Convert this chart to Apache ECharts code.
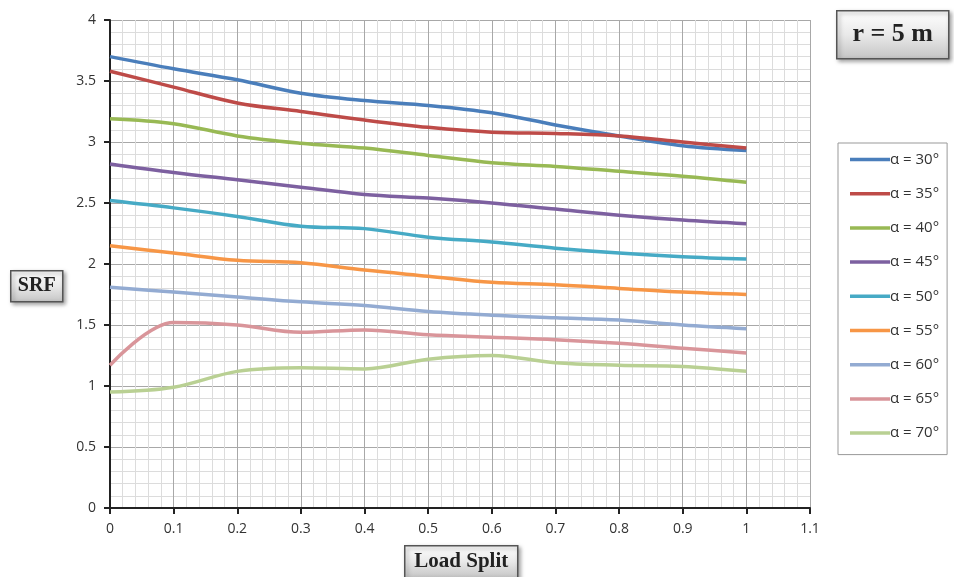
<!DOCTYPE html>
<html>
<head>
<meta charset="utf-8">
<script src="https://cdn.jsdelivr.net/npm/echarts@6/dist/echarts.min.js"></script>
<style>
  html, body { margin: 0; padding: 0; background: #fff; }
  #chart { width: 954px; height: 577px; }
</style>
</head>
<body>
<div id="chart"></div>
<script>
var loadSplit = [0, 0.1, 0.2, 0.3, 0.4, 0.5, 0.6, 0.7, 0.8, 0.9, 1.0];
var xTicks = [0, 0.1, 0.2, 0.3, 0.4, 0.5, 0.6, 0.7, 0.8, 0.9, 1, 1.1];
var yTicks = [0, 0.5, 1, 1.5, 2, 2.5, 3, 3.5, 4];

var names = ['α = 30°', 'α = 35°', 'α = 40°', 'α = 45°', 'α = 50°', 'α = 55°', 'α = 60°', 'α = 65°', 'α = 70°'];
var colors = ['#4a7ebb', '#be4b48', '#98b954', '#7d60a0', '#46aac5', '#f79646', '#93abd2', '#d9959a', '#b9d093'];

var srf30 = [3.70, 3.60, 3.51, 3.40, 3.34, 3.30, 3.24, 3.14, 3.05, 2.97, 2.93];
var srf35 = [3.58, 3.45, 3.32, 3.25, 3.18, 3.12, 3.08, 3.07, 3.05, 3.00, 2.95];
var srf40 = [3.19, 3.15, 3.05, 2.99, 2.95, 2.89, 2.83, 2.80, 2.76, 2.72, 2.67];
var srf45 = [2.82, 2.75, 2.69, 2.63, 2.57, 2.54, 2.50, 2.45, 2.40, 2.36, 2.33];
var srf50 = [2.52, 2.46, 2.39, 2.31, 2.29, 2.22, 2.18, 2.13, 2.09, 2.06, 2.04];
var srf55 = [2.15, 2.09, 2.03, 2.01, 1.95, 1.90, 1.85, 1.83, 1.80, 1.77, 1.75];
var srf60 = [1.81, 1.77, 1.73, 1.69, 1.66, 1.61, 1.58, 1.56, 1.54, 1.50, 1.47];
var srf65 = [1.17, 1.52, 1.50, 1.44, 1.46, 1.42, 1.40, 1.38, 1.35, 1.31, 1.27];
var srf70 = [0.95, 0.99, 1.12, 1.15, 1.14, 1.22, 1.25, 1.19, 1.17, 1.16, 1.12];
var allSeries = [srf30, srf35, srf40, srf45, srf50, srf55, srf60, srf65, srf70];

var chart = echarts.init(document.getElementById('chart'));

var labelBox = function (x, y, w, h, text, size) {
    return {
        type: 'group',
        left: x,
        top: y,
        children: [{
            type: 'rect',
            shape: { width: w, height: h },
            style: {
                fill: new echarts.graphic.LinearGradient(0, 0, 0, 1, [
                    { offset: 0, color: '#ffffff' },
                    { offset: 0.5, color: '#e9e9e9' },
                    { offset: 1, color: '#c4c4c4' }
                ]),
                stroke: '#555',
                lineWidth: 1.5,
                shadowBlur: 4,
                shadowOffsetX: 2,
                shadowOffsetY: 2,
                shadowColor: 'rgba(0,0,0,0.35)'
            }
        }, {
            type: 'text',
            x: w / 2,
            y: h / 2,
            style: {
                text: text,
                fill: '#222',
                font: 'bold ' + size + 'px "Liberation Serif", "DejaVu Serif", serif',
                align: 'center',
                verticalAlign: 'middle'
            }
        }]
    };
};

chart.setOption({
    animation: false,
    color: colors,
    grid: {
        left: 110,
        right: 144,
        top: 20,
        bottom: 69
    },
    legend: {
        orient: 'vertical',
        left: 838,
        top: 143,
        width: 110,
        padding: [9, 8, 14, 12],
        icon: 'path://M0,0 L40,0 L40,3.5 L0,3.5 Z',
        symbolKeepAspect: true,
        itemWidth: 40,
        itemHeight: 14,
        itemGap: 19.2,
        borderColor: '#999',
        borderWidth: 1,
        textStyle: {
            fontFamily: 'Open Sans',
            fontSize: 15,
            color: '#333',
            padding: [0, 0, 0, -5]
        },
        data: names
    },
    xAxis: {
        type: 'value',
        min: 0,
        max: 1.1,
        interval: 0.1,
        axisLine: { onZero: false, lineStyle: { color: '#222', width: 2 } },
        axisTick: { show: true, length: 6, lineStyle: { color: '#222', width: 2 } },
        axisLabel: {
            margin: 14,
            fontFamily: 'Open Sans',
            fontSize: 14,
            color: '#333',
            formatter: function (v) { return String(parseFloat(v.toFixed(1))); }
        },
        splitLine: { show: true, lineStyle: { color: '#a8a8a8', width: 1 } },
        minorTick: { show: false, splitNumber: 5 },
        minorSplitLine: { show: true, lineStyle: { color: '#dcdcdc', width: 1 } }
    },
    yAxis: {
        type: 'value',
        min: 0,
        max: 4,
        interval: 0.5,
        axisLine: { show: true, lineStyle: { color: '#222', width: 2 } },
        axisTick: { show: true, length: 6, lineStyle: { color: '#222', width: 2 } },
        axisLabel: {
            margin: 14,
            fontFamily: 'Open Sans',
            fontSize: 14,
            color: '#333'
        },
        splitLine: { show: true, lineStyle: { color: '#a8a8a8', width: 1 } },
        minorTick: { show: false, splitNumber: 5 },
        minorSplitLine: { show: true, lineStyle: { color: '#dcdcdc', width: 1 } }
    },
    series: names.map(function (n, i) {
        return {
            name: n,
            type: 'line',
            smooth: 0.35,
            symbol: 'none',
            lineStyle: { width: 3.5, color: colors[i] },
            itemStyle: { color: colors[i] },
            data: loadSplit.map(function (x, j) { return [x, allSeries[i][j]]; })
        };
    }),
    graphic: [
        labelBox(836, 10, 112, 48, 'r = 5 m', 26),
        labelBox(10, 270, 52, 31, 'SRF', 20),
        labelBox(404, 545, 113, 32, 'Load Split', 21)
    ]
});
</script>
</body>
</html>
